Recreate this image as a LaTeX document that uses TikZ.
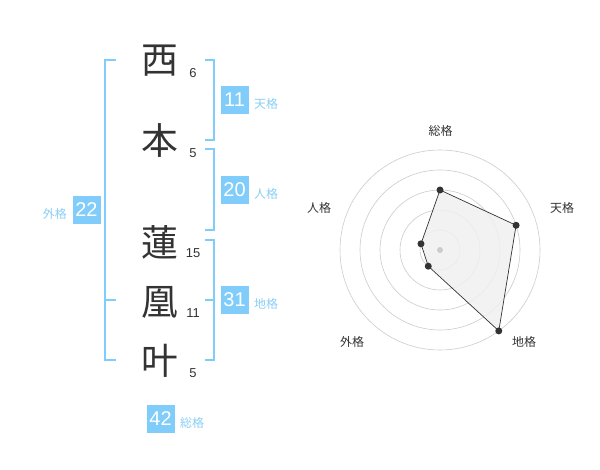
\documentclass[tikz,border=0pt]{standalone}
\usepackage{fontspec}
\usetikzlibrary{calc}
\setmainfont{Liberation Sans}
\newfontfamily\cjk{Noto Sans CJK JP}
\definecolor{bl}{HTML}{80CCFA}
\definecolor{bltext}{HTML}{8ACFF5}
\definecolor{ink}{HTML}{333333}
\definecolor{ring}{HTML}{CCCCCC}
\definecolor{polyfill}{HTML}{F0F0F0}
\begin{document}
\begin{tikzpicture}[x=1bp,y=-1bp,
  bigchar/.style={inner sep=0pt,text=ink,font=\cjk\fontsize{37}{37}\selectfont},
  strokes/.style={inner sep=0pt,text=ink,font=\fontsize{13}{13}\selectfont},
  numbox/.style={fill=bl,text=white,minimum width=28bp,minimum height=28bp,inner sep=0pt,font=\fontsize{20}{20}\selectfont},
  kaku/.style={inner sep=0pt,text=bltext,font=\cjk\fontsize{12}{12}\selectfont},
  bracket/.style={draw=bl,line width=1.6bp},
  axlabel/.style={inner sep=0pt,text=ink,font=\cjk\fontsize{12}{12}\selectfont},
  dot/.style={circle,fill=ink,inner sep=0pt,minimum size=7bp},
]
\useasboundingbox (0,0) rectangle (600,470);
\fill[white] (0,0) rectangle (600,470);

% characters
\node[bigchar] (c1) at (160,61) {西};
\node[bigchar] (c2) at (160,141) {本};
\node[bigchar] (c3) at (160,242) {蓮};
\node[bigchar] (c4) at (160,302) {凰};
\node[bigchar] (c5) at (160,361) {叶};
\node[strokes] (s1) at (193,73) {6};
\node[strokes] (s2) at (193,153) {5};
\node[strokes] (s3) at (193,253) {15};
\node[strokes] (s4) at (193,313) {11};
\node[strokes] (s5) at (193,373) {5};

% brackets
\draw[bracket] (116,60) -- (105,60) -- (105,360) -- (116,360);
\draw[bracket] (105,300) -- (116,300);
\draw[bracket] (205,60) -- (214,60) -- (214,140) -- (205,140);
\draw[bracket] (205,149) -- (214,149) -- (214,230) -- (205,230);
\draw[bracket] (205,240) -- (214,240) -- (214,360) -- (205,360);
\draw[bracket] (205,300) -- (214,300);

% boxes
\node[numbox] (ten) at (234.5,100) {11};
\node[kaku, anchor=west] (tenl) at (254,104) {天格};
\node[numbox] (jin) at (234.5,190) {20};
\node[kaku, anchor=west] (jinl) at (254,194) {人格};
\node[numbox] (chi) at (234.5,300) {31};
\node[kaku, anchor=west] (chil) at (254,304) {地格};
\node[numbox] (gai) at (86.5,210) {22};
\node[kaku, anchor=east] (gail) at (67,214) {外格};
\node[numbox] (sou) at (160.5,419) {42};
\node[kaku, anchor=west] (soul) at (180,423) {総格};

% radar
\coordinate (o) at (440,250);
\foreach \r in {20,40,60,80,100} \draw[ring,line width=0.6bp] (o) circle[radius=\r];
\node[axlabel] (lsou) at (440.5,131) {総格};
\node[axlabel] (lten) at (562,208) {天格};
\node[axlabel] (lchi) at (524,342) {地格};
\node[axlabel] (lgai) at (352,342) {外格};
\node[axlabel] (ljin) at (319,208) {人格};
\coordinate (psou) at ($(o)+(-90:60)$);
\coordinate (pten) at ($(o)+(-18:80)$);
\coordinate (pchi) at ($(o)+(54:100)$);
\coordinate (pgai) at ($(o)+(126:20)$);
\coordinate (pjin) at ($(o)+(198:20)$);
\fill[polyfill,opacity=0.85] (psou) -- (pten) -- (pchi) -- (pgai) -- (pjin) -- cycle;
\fill[ring] (o) circle[radius=3bp];
\draw[ink,line width=0.7bp] (psou) -- (pten) -- (pchi) -- (pgai) -- (pjin) -- cycle;
\foreach \p in {psou,pten,pchi,pgai,pjin} \node[dot] at (\p) {};
\end{tikzpicture}
\end{document}
